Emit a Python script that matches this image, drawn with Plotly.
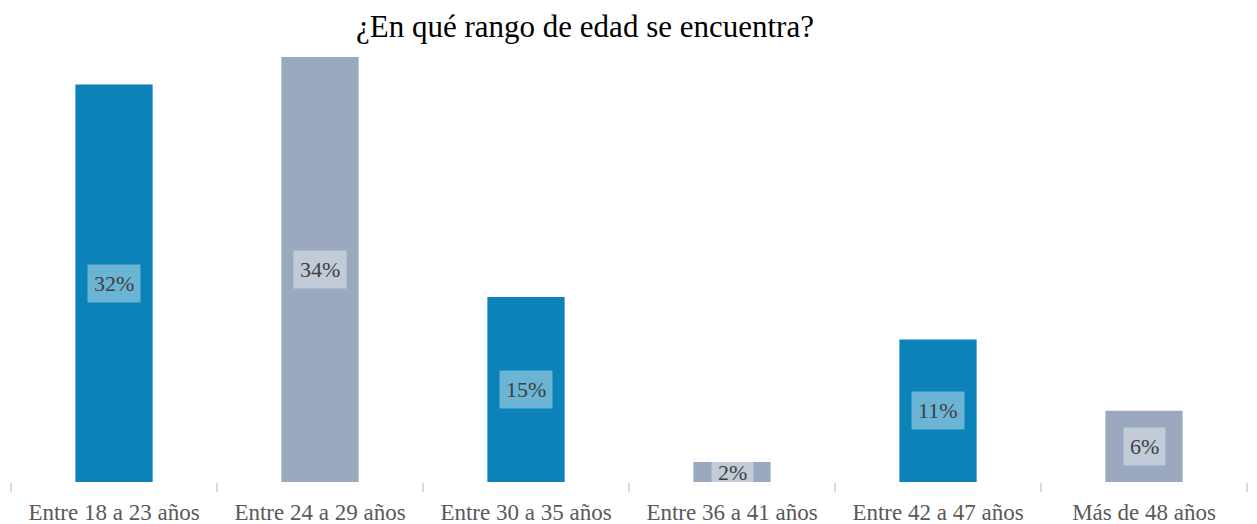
import plotly.graph_objects as go

categorias = [
    "Entre 18 a 23 años",
    "Entre 24 a 29 años",
    "Entre 30 a 35 años",
    "Entre 36 a 41 años",
    "Entre 42 a 47 años",
    "Más de 48 años",
]
porcentajes = [31.8, 34.0, 14.8, 1.6, 11.4, 5.7]
colores = ["#0b82b8", "#9aa9bf", "#0b82b8", "#9aa9bf", "#0b82b8", "#9aa9bf"]

fig = go.Figure()
fig.add_trace(
    go.Bar(
        x=categorias,
        y=porcentajes,
        marker=dict(color=colores, line=dict(width=0)),
        hoverinfo="skip",
    )
)

# etiquetas de porcentaje con caja semitransparente
for cat, val in zip(categorias, porcentajes):
    fig.add_annotation(
        x=cat,
        y=val / 2,
        text=f"{val:.0f}%",
        showarrow=False,
        font=dict(family="Liberation Serif", size=22, color="#404040"),
        bgcolor="rgba(255,255,255,0.4)",
        borderpad=6,
    )

fig.update_layout(
    width=1257,
    height=524,
    paper_bgcolor="white",
    plot_bgcolor="white",
    bargap=0.625,
    showlegend=False,
    margin=dict(l=3, r=18, t=49, b=50),
    title=dict(
        text="¿En qué rango de edad se encuentra?",
        font=dict(family="Liberation Serif", size=31, color="#000000"),
        x=577 / 1257,
        xanchor="center",
        xref="container",
        y=1 - 18 / 524,
        yref="container",
        yanchor="middle",
    ),
    font=dict(family="Liberation Serif"),
)
fig.update_xaxes(
    showline=False,
    showgrid=False,
    tickson="boundaries",
    ticks="outside",
    ticklen=9,
    tickwidth=2,
    tickcolor="#d9d9d9",
    ticklabelstandoff=14,
    tickfont=dict(family="Liberation Serif", size=23, color="#595959"),
)
fig.update_yaxes(
    visible=False,
    range=[0, 34.0],
    showgrid=False,
    zeroline=False,
)

fig.write_html("out.html")
